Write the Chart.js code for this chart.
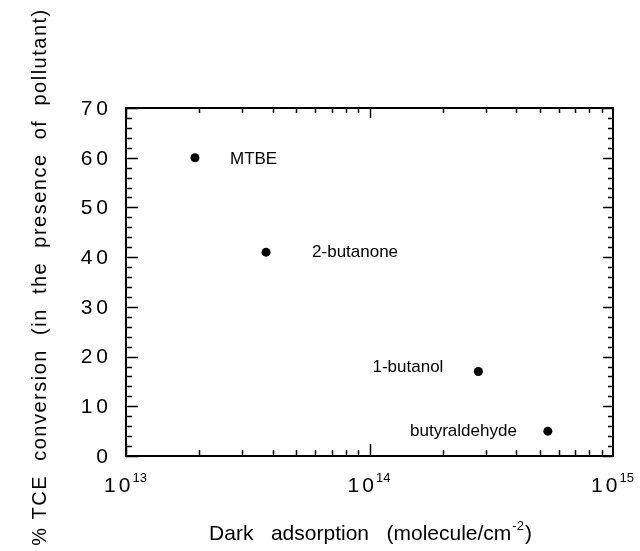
<!DOCTYPE html>
<html>
<head>
<meta charset="utf-8">
<script src="https://cdn.jsdelivr.net/npm/chart.js@4.4.0/dist/chart.umd.min.js"></script>
<style>
  html, body { margin: 0; padding: 0; background: #fff; }
</style>
</head>
<body>
<canvas id="chart" width="640" height="551"></canvas>
<script>
// data
const pollutants = ["MTBE", "2-butanone", "1-butanol", "butyraldehyde"];
const darkAdsorption = [1.92e13, 3.76e13, 2.8e14, 5.4e14];
const tceConversion = [60, 41, 17, 5];

const yTicks = [0, 10, 20, 30, 40, 50, 60, 70];
const xTickExponents = [13, 14, 15];

const FONT = "'Liberation Sans', Arial, Helvetica, sans-serif";

// where each point's name sits relative to its dot
const labelPlacement = {
    "MTBE": { side: "right", dx: 35, dy: 2 },
    "2-butanone": { side: "right", dx: 46, dy: 0 },
    "1-butanol": { side: "left", dx: 35, dy: -4 },
    "butyraldehyde": { side: "left", dx: 31, dy: 0 }
};

const framePlugin = {
    id: "frame",
    afterDraw(chart) {
        const ctx = chart.ctx;
        const area = chart.chartArea;
        const xs = chart.scales.x;
        const ys = chart.scales.y;
        ctx.save();
        ctx.strokeStyle = "#000";
        ctx.fillStyle = "#000";
        ctx.lineWidth = 2;
        ctx.strokeRect(area.left, area.top, area.right - area.left, area.bottom - area.top);

        // inward ticks, y axis (minor every 2)
        ctx.lineWidth = 1.5;
        ctx.beginPath();
        for (let v = 0; v <= 70; v += 2) {
            const py = Math.round(ys.getPixelForValue(v)) + 0.5;
            const major = v % 10 === 0;
            ctx.moveTo(area.left, py);
            ctx.lineTo(area.left + (major ? 12 : 6), py);
            ctx.moveTo(area.right, py);
            ctx.lineTo(area.right - (major ? 10 : 5), py);
        }
        // inward ticks, x axis (decades + 2..9)
        for (let e = 13; e < 15; e++) {
            for (let m = 1; m <= 9; m++) {
                const px = Math.round(xs.getPixelForValue(m * Math.pow(10, e))) + 0.5;
                const major = m === 1;
                ctx.moveTo(px, area.bottom);
                ctx.lineTo(px, area.bottom - (major ? 12 : 6));
                ctx.moveTo(px, area.top);
                ctx.lineTo(px, area.top + (major ? 10 : 5));
            }
        }
        ctx.stroke();

        // y tick labels
        ctx.font = "21px " + FONT;
        ctx.letterSpacing = "4px";
        ctx.textAlign = "right";
        ctx.textBaseline = "middle";
        yTicks.forEach((v) => {
            ctx.fillText(String(v), area.left - 14, ys.getPixelForValue(v) + 1);
        });

        // x tick labels with superscript exponents
        ctx.textBaseline = "alphabetic";
        xTickExponents.forEach((e) => {
            const px = xs.getPixelForValue(Math.pow(10, e));
            ctx.font = "21px " + FONT;
            ctx.letterSpacing = "3px";
            const baseW = ctx.measureText("10").width;
            ctx.font = "13px " + FONT;
            ctx.letterSpacing = "0px";
            const supW = ctx.measureText(String(e)).width;
            const start = px - (baseW + supW) / 2;
            ctx.textAlign = "left";
            ctx.font = "21px " + FONT;
            ctx.letterSpacing = "3px";
            ctx.fillText("10", start, 492);
            ctx.font = "13px " + FONT;
            ctx.letterSpacing = "0px";
            ctx.fillText(String(e), start + baseW - 1, 482);
        });

        // point names
        ctx.font = "17px " + FONT;
        ctx.letterSpacing = "0px";
        ctx.textBaseline = "middle";
        const meta = chart.getDatasetMeta(0);
        meta.data.forEach((pt, i) => {
            const p = labelPlacement[pollutants[i]];
            if (p.side === "right") {
                ctx.textAlign = "left";
                ctx.fillText(pollutants[i], pt.x + p.dx, pt.y + p.dy);
            } else {
                ctx.textAlign = "right";
                ctx.fillText(pollutants[i], pt.x - p.dx, pt.y + p.dy);
            }
        });

        // x axis title
        const cx = (area.left + area.right) / 2;
        ctx.font = "21px " + FONT;
        ctx.textBaseline = "alphabetic";
        const t1 = "Dark   adsorption   (molecule/cm";
        const w1 = ctx.measureText(t1).width;
        ctx.font = "13px " + FONT;
        const w2 = ctx.measureText("-2").width;
        ctx.font = "21px " + FONT;
        const w3 = ctx.measureText(")").width;
        const x0 = cx - (w1 + w2 + w3) / 2;
        ctx.textAlign = "left";
        ctx.fillText(t1, x0, 540);
        ctx.font = "13px " + FONT;
        ctx.fillText("-2", x0 + w1 + 1, 530);
        ctx.font = "21px " + FONT;
        ctx.fillText(")", x0 + w1 + w2 + 2, 540);

        // y axis title
        ctx.save();
        ctx.translate(40, 277);
        ctx.rotate(-Math.PI / 2);
        ctx.textAlign = "center";
        ctx.textBaseline = "middle";
        ctx.font = "20px " + FONT;
        ctx.letterSpacing = "1.5px";
        ctx.fillText("% TCE  conversion  (in  the  presence  of  pollutant)", 0, 0);
        ctx.restore();

        ctx.restore();
    }
};

new Chart(document.getElementById("chart"), {
    type: "scatter",
    data: {
        datasets: [{
            label: "TCE conversion",
            data: darkAdsorption.map((x, i) => ({ x: x, y: tceConversion[i] })),
            backgroundColor: "#000",
            borderColor: "#000",
            borderWidth: 0,
            pointRadius: 4.5,
            pointHoverRadius: 4.5
        }]
    },
    options: {
        responsive: false,
        animation: false,
        devicePixelRatio: 1,
        layout: { padding: { left: 126, right: 27, top: 108, bottom: 95 } },
        plugins: {
            legend: { display: false },
            tooltip: { enabled: false }
        },
        scales: {
            x: { type: "logarithmic", min: 1e13, max: 1e15, display: false },
            y: { type: "linear", min: 0, max: 70, display: false }
        }
    },
    plugins: [framePlugin]
});
</script>
</body>
</html>
